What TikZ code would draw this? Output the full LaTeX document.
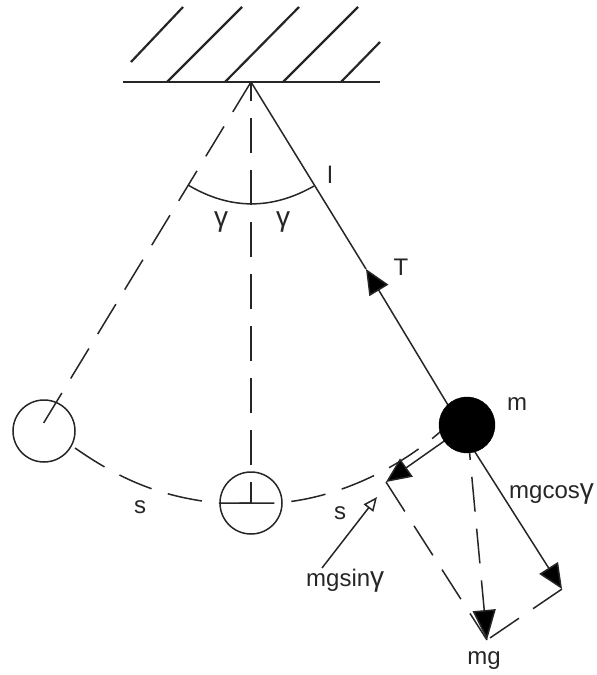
\documentclass[tikz,border=0pt]{standalone}
\usepackage{fontspec}
\setmainfont{Liberation Sans}
\usetikzlibrary{arrows.meta}
\newcommand{\biggam}{{\fontsize{28}{28}\selectfont γ}}
\tikzset{
  ln/.style={line width=1.5pt,draw=black!85},
  hatch/.style={line width=2.2pt,draw=black!85},
  dsh/.style={ln,dash pattern=on 35pt off 17pt},
  ball/.style={circle,draw=black!85,line width=1.5pt,minimum size=62pt,inner sep=0pt},
  massball/.style={circle,draw=black,fill=black,minimum size=56pt,inner sep=0pt},
  lab/.style={inner sep=0pt,font=\fontsize{24}{24}\selectfont,text=black!85},
  solidhead/.style={-{Triangle[length=25pt,width=22pt,fill=black]}},
  openhead/.style={-{Triangle[open,length=14pt,width=12pt,fill=white]}}
}
\begin{document}
\begin{tikzpicture}[x=1pt,y=-1pt]
\useasboundingbox (0,0) rectangle (597,675);
% ceiling
\coordinate (cl) at (123,82); \coordinate (cr) at (380,82);
\coordinate (pivot) at (251,82);
\draw[ln] (cl) -- (cr);
\draw[hatch] (131,62) -- (183,7);
\draw[hatch] (167,82) -- (242,7);
\draw[hatch] (225,82) -- (299,7);
\draw[hatch] (283,82) -- (358,7);
\draw[hatch] (341,82) -- (380,42);
% balls
\node[ball] (ballL) at (44,431) {};
\node[ball] (ballM) at (251,503) {};
\coordinate (cL) at (43,424);
\coordinate (cM) at (251,503);
% dashed strings
\draw[dsh] (pivot) -- (cL);
\draw[dsh,dash phase=16pt] (pivot) -- (cM);
% angle arc
\coordinate (aL) at (188,185); \coordinate (aR) at (314,186);
\draw[ln] (aL) .. controls (230,210) and (272,210) .. (aR);
% swing path
\coordinate (sL) at (75,448); \coordinate (sLm) at (217,503); \coordinate (sM) at (252,503);
\coordinate (sR) at (453,420); \coordinate (sRm) at (275,503); \coordinate (sN) at (235,503);
\draw[dsh] (sL) .. controls (125,483) and (165,497) .. (sLm) -- (sM);
\draw[dsh,dash phase=7pt] (sR) .. controls (400,472) and (330,500) .. (sRm) -- (sN);
% right string and tension
\coordinate (ct) at (467,425);
\coordinate (stringEnd) at (460,425);
\coordinate (Ttip) at (366,269);
\coordinate (mgsinTip) at (386,482);
\coordinate (mgcosS) at (461,430);
\coordinate (mgcosTip) at (562,589);
\coordinate (mgTip) at (487,640);
\draw[ln] (pivot) -- (Ttip);
\draw[ln,solidhead] (stringEnd) -- (Ttip);
% force components
\draw[ln,solidhead] (ct) -- (mgsinTip);
\draw[ln,solidhead] (mgcosS) -- (mgcosTip);
\draw[dsh,-{Triangle[length=30pt,width=23pt,fill=black]}] (ct) -- (mgTip);
\draw[dsh] (mgsinTip) -- (mgTip);
\draw[dsh] (mgcosTip) -- (mgTip);
\node[massball] (ballR) at (ct) {};
% pointer
\coordinate (pS) at (322,568); \coordinate (pT) at (377,497);
\draw[ln,openhead] (pS) -- (pT);
% labels
\node[lab] (lm) at (517,404) {m};
\node[lab,anchor=west] (lmgcos) at (509,494) {mgcos\biggam};
\node[lab,anchor=west] (lmgsin) at (306,581) {mgsin\biggam};
\node[lab] (lmg) at (484,661) {mg};
\node[lab] (ls1) at (140,507) {s};
\node[lab] (ls2) at (340,513) {s};
\node[lab] (ll) at (330,175) {l};
\node[lab] (lT) at (401,267) {T};
\node[lab] (lg1) at (221,222) {\biggam};
\node[lab] (lg2) at (283,222) {\biggam};
\end{tikzpicture}
\end{document}
